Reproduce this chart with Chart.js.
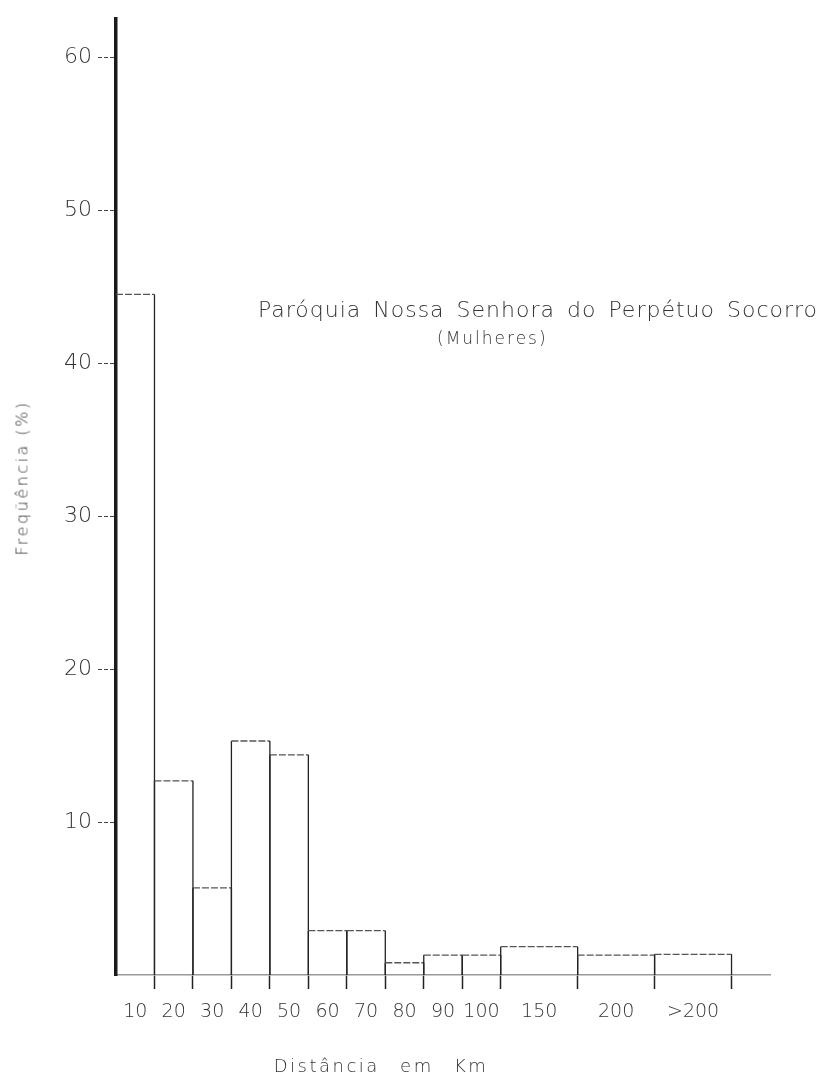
<!DOCTYPE html>
<html>
<head>
<meta charset="utf-8">
<script src="https://cdn.jsdelivr.net/npm/chart.js@4/dist/chart.umd.min.js"></script>
<style>
  html, body { margin: 0; padding: 0; background: #fff; }
  #wrap { position: relative; width: 823px; height: 1078px; }
  .txt { position: absolute; font-family: "DejaVu Sans", sans-serif; font-weight: 200; color: #333; white-space: nowrap; }
  #title { left: 258px; top: 297px; font-size: 22px; letter-spacing: 1px; word-spacing: 4px; }
  #subtitle { left: 437px; top: 328px; font-size: 17px; letter-spacing: 2px; }
  #ytitle { left: 22px; top: 478px; font-size: 16px; letter-spacing: 2.5px; transform: translate(-50%, -50%) rotate(-90deg); }
  #xtitle { left: 381px; top: 1065px; font-size: 18px; letter-spacing: 2.5px; word-spacing: 12px; transform: translate(-50%, -50%); }
</style>
</head>
<body>
<div id="wrap">
  <canvas id="chart" width="823" height="1078"></canvas>
  <div class="txt" id="title">Paróquia Nossa Senhora do Perpétuo Socorro</div>
  <div class="txt" id="subtitle">(Mulheres)</div>
  <div class="txt" id="ytitle">Freqüência (%)</div>
  <div class="txt" id="xtitle">Distância em Km</div>
</div>
<script>
// distance classes (km) and the share of women in each (%)
const categories = ['10', '20', '30', '40', '50', '60', '70', '80', '90', '100', '150', '200', '>200'];
const frequencies = [44.5, 12.7, 5.7, 15.3, 14.4, 2.9, 2.9, 0.8, 1.3, 1.3, 1.85, 1.3, 1.35];
// relative width of each class on the drawn axis
const binWidths = [1, 1, 1, 1, 1, 1, 1, 1, 1, 1, 2, 2, 2];
const yTicks = [10, 20, 30, 40, 50, 60];

// bin edges from the widths
const binStart = [];
const binEnd = [];
let acc = 0;
binWidths.forEach(function(w) {
  binStart.push(acc);
  acc += w;
  binEnd.push(acc);
});
const binCenter = binStart.map((s, i) => (s + binEnd[i]) / 2);

// outline of the histogram: every bar goes up from the baseline and back
const outline = [];
frequencies.forEach(function(v, i) {
  outline.push({x: binStart[i], y: 0});
  outline.push({x: binStart[i], y: v});
  outline.push({x: binEnd[i], y: v});
  outline.push({x: binEnd[i], y: 0});
});

const FONT = "'DejaVu Sans', sans-serif";
const isEdge = v => binEnd.includes(v);

const ctx = document.getElementById('chart').getContext('2d');
new Chart(ctx, {
  type: 'scatter',
  data: {
    datasets: [{
      data: outline,
      showLine: true,
      pointRadius: 0,
      borderColor: '#222',
      borderWidth: 1.3,
      segment: {
        borderColor: c => c.p0.parsed.y === c.p1.parsed.y ? '#555' : '#222',
        borderDash: c => c.p0.parsed.y === c.p1.parsed.y ? [7, 2] : undefined
      }
    }]
  },
  options: {
    responsive: false,
    animation: false,
    layout: { padding: { top: 13, right: 53, bottom: 43, left: 0 } },
    plugins: { legend: { display: false }, tooltip: { enabled: false } },
    scales: {
      x: {
        type: 'linear',
        min: 0,
        max: acc + 1,
        afterFit: s => { s.height = 60; },
        afterBuildTicks: s => {
          const vals = binCenter.concat(binEnd).sort((a, b) => a - b);
          s.ticks = vals.map(v => ({value: v}));
        },
        ticks: {
          autoSkip: false,
          maxRotation: 0,
          padding: 12,
          color: '#333',
          font: { family: FONT, size: 19, weight: 200 },
          callback: v => {
            const i = binCenter.indexOf(v);
            return i >= 0 ? categories[i] : '';
          }
        },
        grid: {
          drawOnChartArea: false,
          tickLength: 14,
          tickWidth: 1.5,
          tickColor: c => (c.tick && isEdge(c.tick.value)) ? '#222' : 'rgba(0,0,0,0)'
        },
        border: { color: '#999', width: 1.5, dash: [3, 2] }
      },
      y: {
        min: 0,
        max: 62.5,
        afterFit: s => { s.width = 116; },
        afterBuildTicks: s => { s.ticks = yTicks.map(v => ({value: v})); },
        ticks: {
          padding: 6,
          color: '#333',
          font: { family: FONT, size: 22, weight: 200 }
        },
        grid: {
          drawOnChartArea: false,
          tickLength: 18,
          tickWidth: 1.2,
          tickColor: '#444',
          tickBorderDash: [4, 2]
        },
        border: { color: '#1a1a1a', width: 3.5 }
      }
    }
  }
});
</script>
</body>
</html>
